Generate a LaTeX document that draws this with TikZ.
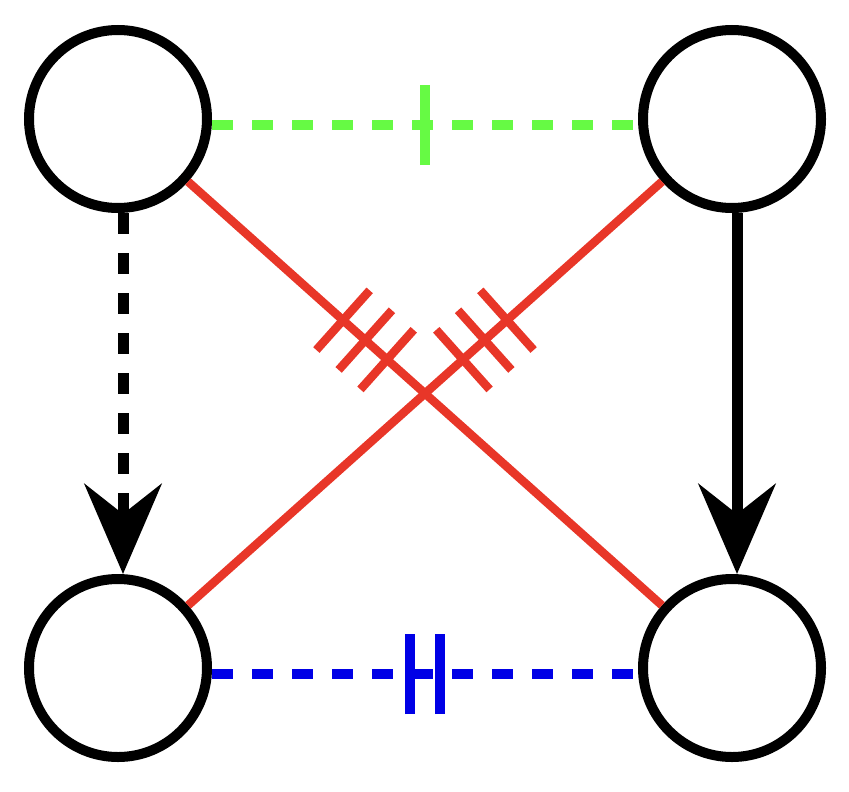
\documentclass[tikz,border=0pt]{standalone}
\usepackage{tikz}
\usetikzlibrary{arrows.meta,positioning}
\usetikzlibrary{decorations.markings}

\definecolor{vert}{RGB}{102,250,68}
\definecolor{rouge}{RGB}{232,54,40}
\definecolor{bleu}{RGB}{0,0,230}

\begin{document}
\begin{tikzpicture} [ every node/.style={draw,shape=circle,line width=1mm,minimum size=17.8mm,inner sep=0pt,outer sep=0.5mm},
		      node distance=3.61cm and 4.26cm,
		      pointe/.style={-{Stealth[length=9mm,width=7.7mm,inset=3mm]}},
		      fleche/.style={pointe,line width=1.1mm},
		      fleche pointillee/.style={fleche,dash pattern=on 2.1mm off 1.9mm},
		      lien vert/.style={vert,line width=1mm,dash pattern=on 2.1mm off 1.9mm,
		        postaction={decorate},
		        decoration={markings,mark=at position 0.5 with {\draw[solid] (0,-4mm) -- (0,4mm);}}},
		      lien bleu/.style={bleu,line width=1mm,dash pattern=on 2.1mm off 1.9mm,
		        postaction={decorate},
		        decoration={markings,mark=at position 0.5 with {\draw[solid] (-1.5mm,-4mm) -- (-1.5mm,4mm) (1.5mm,-4mm) -- (1.5mm,4mm);}}},
		      lien rouge/.style={rouge,line width=0.85mm,
		        postaction={decorate},
		        decoration={markings,
		          mark=at position 0.327 with {\draw (0,-4mm) -- (0,4mm);},
		          mark=at position 0.374 with {\draw (0,-4mm) -- (0,4mm);},
		          mark=at position 0.42 with {\draw (0,-4mm) -- (0,4mm);}}}
		    ]

  \useasboundingbox (0,0) rectangle (8.49,-7.91);

  \node (hg) at (1.18,-1.19) {};
  \node (hd) [right=of hg] {};
  \node (bg) [below=of hg] {};
  \node (bd) [below=of hd] {};

  % cotes
  \draw[lien vert] ([yshift=-0.6mm]hg.east) -- ([yshift=-0.6mm]hd.west);
  \draw[lien bleu] ([yshift=-0.6mm]bg.east) -- ([yshift=-0.6mm]bd.west);

  % diagonales
  \draw[lien rouge] (hg) -- (bd);
  \draw[lien rouge] (hd) -- (bg);

  % fleches
  \draw[fleche pointillee] ([xshift=0.5mm]hg.south) -- ([xshift=0.5mm]bg.north);
  \draw[fleche] ([xshift=0.5mm]hd.south) -- ([xshift=0.5mm]bd.north);
\end{tikzpicture}
\end{document}
